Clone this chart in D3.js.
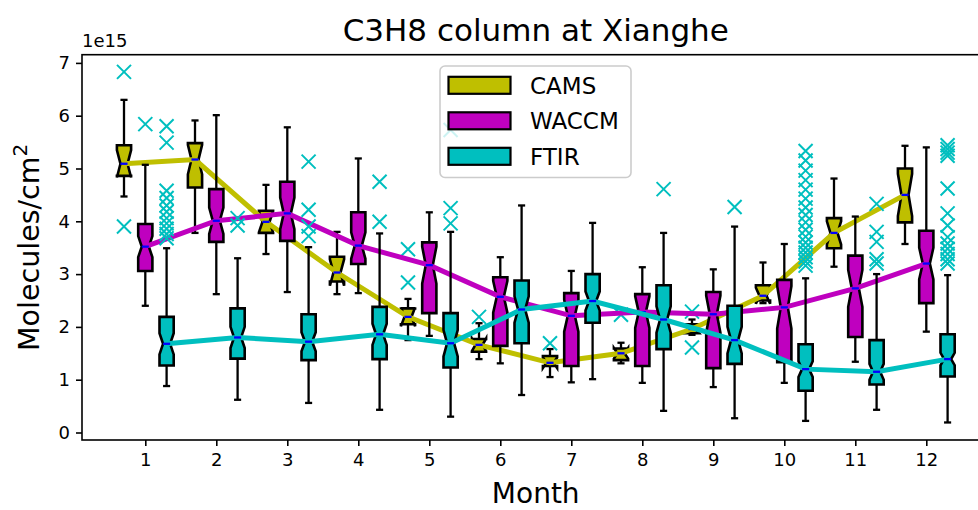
<!DOCTYPE html>
<html><head><meta charset="utf-8">
<script src="https://cdn.jsdelivr.net/npm/d3@7"></script>
<style>body{margin:0;background:#fff;overflow:hidden}svg text{font-family:"DejaVu Sans",sans-serif}</style>
</head><body><svg id="c" width="978" height="510"></svg>
<script>
const months = [1,2,3,4,5,6,7,8,9,10,11,12];
const yTicks = [0,1,2,3,4,5,6,7];
const seriesNames = ["CAMS","WACCM","FTIR"];

const camsWhiskLo = [4.47,3.78,3.38,2.62,1.75,1.39,1.05,1.31,1.85,2.45,3.14,3.57];
const camsQ1      = [4.86,4.64,3.78,2.86,2.05,1.53,1.26,1.37,1.88,2.50,3.49,3.98];
const camsMed     = [5.09,5.17,3.99,3.03,2.19,1.66,1.32,1.50,1.96,2.59,3.78,4.50];
const camsQ3      = [5.44,5.48,4.20,3.33,2.35,1.77,1.45,1.59,2.05,2.79,4.06,5.00];
const camsWhiskHi = [6.30,5.91,4.69,3.80,2.53,2.07,1.58,1.70,2.14,3.22,4.81,5.43];
const camsNotch   = [0.26,0.28,0.20,0.25,0.18,0.12,0.10,0.10,0.08,0.15,0.22,0.40];
const camsFliers  = [[6.83,3.90],[],[],[],[3.47,2.84],[2.19],[1.69],[2.23],[2.29,1.61],[],[],[]];

const waccmWhiskLo = [2.40,2.62,2.66,2.64,1.83,1.31,0.95,0.94,0.86,0.94,1.34,1.91];
const waccmQ1      = [3.06,3.61,3.63,3.19,2.26,1.64,1.26,1.26,1.22,1.33,1.81,2.45];
const waccmMed     = [3.52,4.01,4.15,3.54,3.17,2.57,2.21,2.28,2.24,2.37,2.73,3.20];
const waccmQ3      = [3.95,4.61,4.75,4.17,3.60,2.94,2.64,2.62,2.66,2.89,3.35,3.82];
const waccmWhiskHi = [5.07,6.01,5.78,5.19,4.17,3.32,3.06,3.13,3.09,3.57,4.09,5.40];
const waccmNotch   = [0.20,0.25,0.30,0.25,0.35,0.30,0.30,0.30,0.35,0.40,0.35,0.30];
const waccmFliers  = [[5.84],[],[],[],[],[],[],[],[],[],[],[]];

const ftirWhiskLo = [0.88,0.62,0.56,0.43,0.30,0.71,1.01,0.41,0.27,0.22,0.43,0.19];
const ftirQ1      = [1.27,1.40,1.37,1.39,1.23,1.69,2.08,1.58,1.30,0.79,0.91,1.06];
const ftirMed     = [1.68,1.80,1.72,1.86,1.69,2.33,2.49,2.14,1.75,1.20,1.15,1.39];
const ftirQ3      = [2.19,2.35,2.24,2.38,2.26,2.88,3.00,2.79,2.40,1.67,1.75,1.86];
const ftirWhiskHi = [3.49,3.30,3.51,3.77,3.80,4.30,3.97,3.78,3.90,2.92,3.00,2.98];
const ftirNotch   = [0.20,0.20,0.18,0.20,0.25,0.25,0.18,0.25,0.25,0.15,0.15,0.12];
const ftirFliers  = [
  [5.80,5.49,4.58,4.44,4.30,4.18,4.06,3.96,3.86,3.76,3.68],
  [4.06,3.92],
  [5.13,4.22,3.90,3.72],
  [4.75,3.99],
  [5.73,4.25,3.96],
  [],[],
  [4.61],
  [4.27],
  [5.33,5.15,4.96,4.78,4.60,4.43,4.26,4.12,3.98,3.84,3.71,3.60,3.50,3.41,3.32,3.24,3.16],
  [4.33,3.80,3.61,3.28,3.20],
  [5.44,5.37,5.30,5.24,4.62,4.15,3.92,3.70,3.58,3.48,3.38,3.28,3.20]
];

const seriesColors = ["#bfbf00","#bf00bf","#00bfbf"];
const seriesOffsets = [-0.3, 0, 0.3];

const series = [
  {name:seriesNames[0], lo:camsWhiskLo, q1:camsQ1, med:camsMed, q3:camsQ3, hi:camsWhiskHi, notch:camsNotch, fl:camsFliers},
  {name:seriesNames[1], lo:waccmWhiskLo, q1:waccmQ1, med:waccmMed, q3:waccmQ3, hi:waccmWhiskHi, notch:waccmNotch, fl:waccmFliers},
  {name:seriesNames[2], lo:ftirWhiskLo, q1:ftirQ1, med:ftirMed, q3:ftirQ3, hi:ftirWhiskHi, notch:ftirNotch, fl:ftirFliers}
];

const svg = d3.select("#c");
const L = 82, R = 989.5, T = 54.7, B = 440;
const x = d3.scaleLinear().domain([1,12]).range([145.3, 926.3]);
const y = d3.scaleLinear().domain([0,7]).range([432.5, 62.9]);
const boxW = 0.2;
const pxW = x(1+boxW) - x(1);

const plot = svg.append("g");

series.forEach((s, si) => {
  const col = seriesColors[si];
  const g = plot.append("g");
  months.forEach((m, i) => {
    const cx = x(m + seriesOffsets[si]);
    const bl = cx - pxW/2, br = cx + pxW/2, cl = cx - pxW/4, cr = cx + pxW/4;
    const q1 = y(s.q1[i]), q3 = y(s.q3[i]), md = y(s.med[i]);
    const nlo = y(s.med[i] - s.notch[i]), nhi = y(s.med[i] + s.notch[i]);
    g.append("line").attr("x1",cx).attr("x2",cx).attr("y1",q1).attr("y2",y(s.lo[i]))
      .attr("stroke","#000").attr("stroke-width",2.3);
    g.append("line").attr("x1",cx).attr("x2",cx).attr("y1",q3).attr("y2",y(s.hi[i]))
      .attr("stroke","#000").attr("stroke-width",2.3);
    g.append("line").attr("x1",cl).attr("x2",cr).attr("y1",y(s.lo[i])).attr("y2",y(s.lo[i]))
      .attr("stroke","#000").attr("stroke-width",2.3);
    g.append("line").attr("x1",cl).attr("x2",cr).attr("y1",y(s.hi[i])).attr("y2",y(s.hi[i]))
      .attr("stroke","#000").attr("stroke-width",2.3);
    const pts = [[bl,q1],[bl,nlo],[cl,md],[bl,nhi],[bl,q3],[br,q3],[br,nhi],[cr,md],[br,nlo],[br,q1]];
    g.append("path").attr("d", d3.line()(pts) + "Z")
      .attr("fill", col).attr("stroke","#000").attr("stroke-width",2.6).attr("stroke-linejoin","miter");
    s.fl[i].forEach(v => {
      const fy = y(v), r = 7;
      g.append("path").attr("d",`M${cx-r},${fy-r}L${cx+r},${fy+r}M${cx-r},${fy+r}L${cx+r},${fy-r}`)
        .attr("stroke","#00bfbf").attr("stroke-width",2).attr("fill","none");
    });
  });
  plot.append("path")
    .attr("d", d3.line().x((m,i)=>x(m+seriesOffsets[si])).y((m,i)=>y(s.med[i]))(months))
    .attr("fill","none").attr("stroke",col).attr("stroke-width",5);
  months.forEach((m,i)=>{
    const cx = x(m + seriesOffsets[si]);
    plot.append("line").attr("x1",cx-pxW/4).attr("x2",cx+pxW/4)
      .attr("y1",y(s.med[i])).attr("y2",y(s.med[i]))
      .attr("stroke","#0000ff").attr("stroke-width",2.3);
  });
});

const yAxis = svg.append("g").attr("transform",`translate(${L},0)`)
  .call(d3.axisLeft(y).tickValues(yTicks).tickSize(6).tickPadding(6).tickFormat(d3.format("d")));
const xAxis = svg.append("g").attr("transform",`translate(0,${B})`)
  .call(d3.axisBottom(x).tickValues(months).tickSize(6).tickPadding(7).tickFormat(d3.format("d")));
[yAxis,xAxis].forEach(a=>{
  a.select(".domain").remove();
  a.selectAll(".tick line").attr("stroke","#000").attr("stroke-width",1.6);
  a.selectAll(".tick text").attr("font-size",18).attr("fill","#000")
   .style("font-family","'DejaVu Sans', sans-serif");
});
svg.append("rect").attr("x",L).attr("y",T).attr("width",R-L).attr("height",B-T)
  .attr("fill","none").attr("stroke","#000").attr("stroke-width",1.6);

svg.append("text").attr("x",L).attr("y",47).attr("font-size",18).text("1e15");

const cxAx = (L+R)/2;
svg.append("text").attr("x",cxAx).attr("y",41).attr("text-anchor","middle")
  .attr("font-size",31).text("C3H8 column at Xianghe");
svg.append("text").attr("x",cxAx).attr("y",503).attr("text-anchor","middle")
  .attr("font-size",28).text("Month");
const yl = svg.append("text").attr("transform",`translate(39,${(T+B)/2}) rotate(-90)`)
  .attr("text-anchor","middle").attr("font-size",28.5);
yl.append("tspan").text("Molecules/cm");
yl.append("tspan").attr("dy",-12).attr("font-size",20).text("2");

const lg = svg.append("g");
lg.append("rect").attr("x",440).attr("y",66).attr("width",191).attr("height",111.5).attr("rx",5)
  .attr("fill","#fff").attr("fill-opacity",0.8).attr("stroke","#cccccc").attr("stroke-width",1.6);
seriesNames.forEach((n,i)=>{
  const cy = 85.3 + i*35.5;
  lg.append("rect").attr("x",448.5).attr("y",cy-8.5).attr("width",62).attr("height",17)
    .attr("fill",seriesColors[i]).attr("stroke","#000").attr("stroke-width",2.2);
  lg.append("text").attr("x",530).attr("y",cy).attr("dy","0.36em").attr("font-size",23).text(n);
});
</script></body></html>
